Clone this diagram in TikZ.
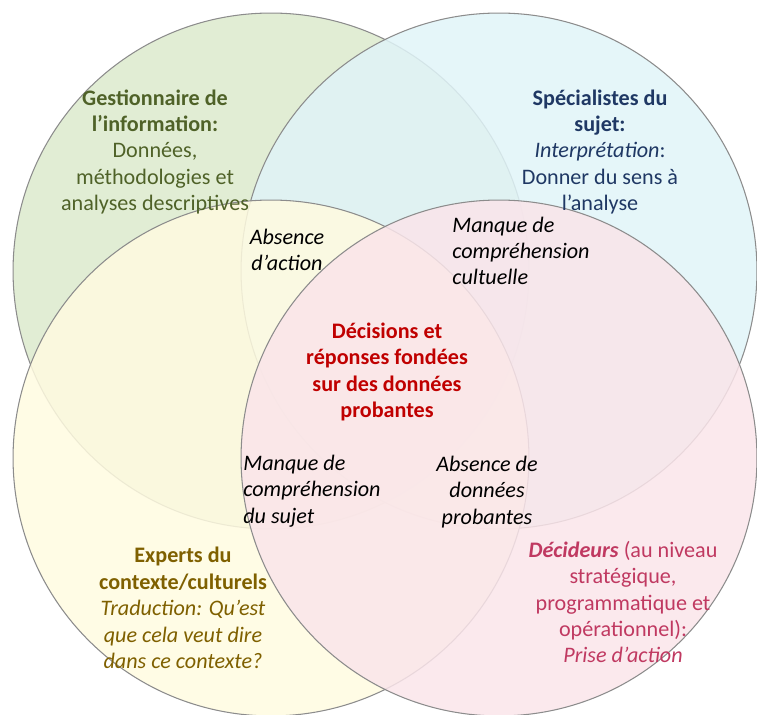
\documentclass[tikz,border=0pt]{standalone}
\usepackage{fontspec}
\setmainfont{Carlito}
\usepackage{tikz}
\usetikzlibrary{positioning}

\definecolor{ringgray}{RGB}{140,140,140}
\definecolor{gestfill}{RGB}{220,234,205}
\definecolor{specfill}{RGB}{224,244,248}
\definecolor{expfill}{RGB}{255,251,224}
\definecolor{decfill}{RGB}{250,229,234}
\definecolor{gesttext}{RGB}{79,98,40}
\definecolor{spectext}{RGB}{31,56,100}
\definecolor{exptext}{RGB}{127,96,0}
\definecolor{dectext}{RGB}{192,57,97}
\definecolor{coretext}{RGB}{192,0,0}

\begin{document}
\begin{tikzpicture}[x=0.02cm, y=-0.02cm,
    ring/.style={draw=ringgray, line width=0.6pt, fill opacity=0.85},
    roletext/.style={align=center, inner sep=0pt, font=\fontsize{12.6pt}{15pt}\selectfont},
    gaptext/.style={roletext, font=\fontsize{12.6pt}{15pt}\selectfont\itshape}]
                \useasboundingbox (0,0) rectangle (757,715);

                % the four circles
                \draw [ring, fill=gestfill] (271,271) circle [radius=5.16cm];
                \draw [ring, fill=specfill] (499,271) circle [radius=5.16cm];
                \draw [ring, fill=expfill] (271,458) circle [radius=5.16cm];
                \draw [ring, fill=decfill] (499,458) circle [radius=5.16cm];

                \node [roletext, text=gesttext] (gest) at (155,152)
                    {\textbf{Gestionnaire de}\\ \textbf{l’information:}\\ Données,\\ méthodologies et\\ analyses descriptives};
                \node [roletext, text=spectext] (spec) at (600,152)
                    {\textbf{Spécialistes du}\\ \textbf{sujet:}\\ \textit{Interprétation}:\\ Donner du sens à\\ l’analyse};
                \node [roletext, text=exptext] (expert) at (183,608)
                    {\textbf{Experts du}\\ \textbf{contexte/culturels}\\ \textit{Traduction: Qu’est}\\ \textit{que cela veut dire}\\ \textit{dans ce contexte?}};
                \node [roletext, text=dectext] (decid) at (623,602)
                    {\textbf{\textit{Décideurs}} (au niveau\\ stratégique,\\ programmatique et\\ opérationnel):\\ \textit{Prise d’action}};

                \node [roletext, text=coretext, font=\fontsize{12.6pt}{15pt}\selectfont\bfseries] (core) at (387,372)
                    {Décisions et\\ réponses fondées\\ sur des données\\ probantes};

                \node [gaptext] (noaction) at (287,250) {Absence\\ d’action};
                \node [gaptext, align=left, anchor=west] (nocult) at (452,251) {Manque de\\ compréhension\\ cultuelle};
                \node [gaptext, align=left, anchor=west] (nosubj) at (243,491) {Manque de\\ compréhension\\ du sujet};
                \node [gaptext] (noevid) at (487,492) {Absence de\\ données\\ probantes};
            \end{tikzpicture}
\end{document}
